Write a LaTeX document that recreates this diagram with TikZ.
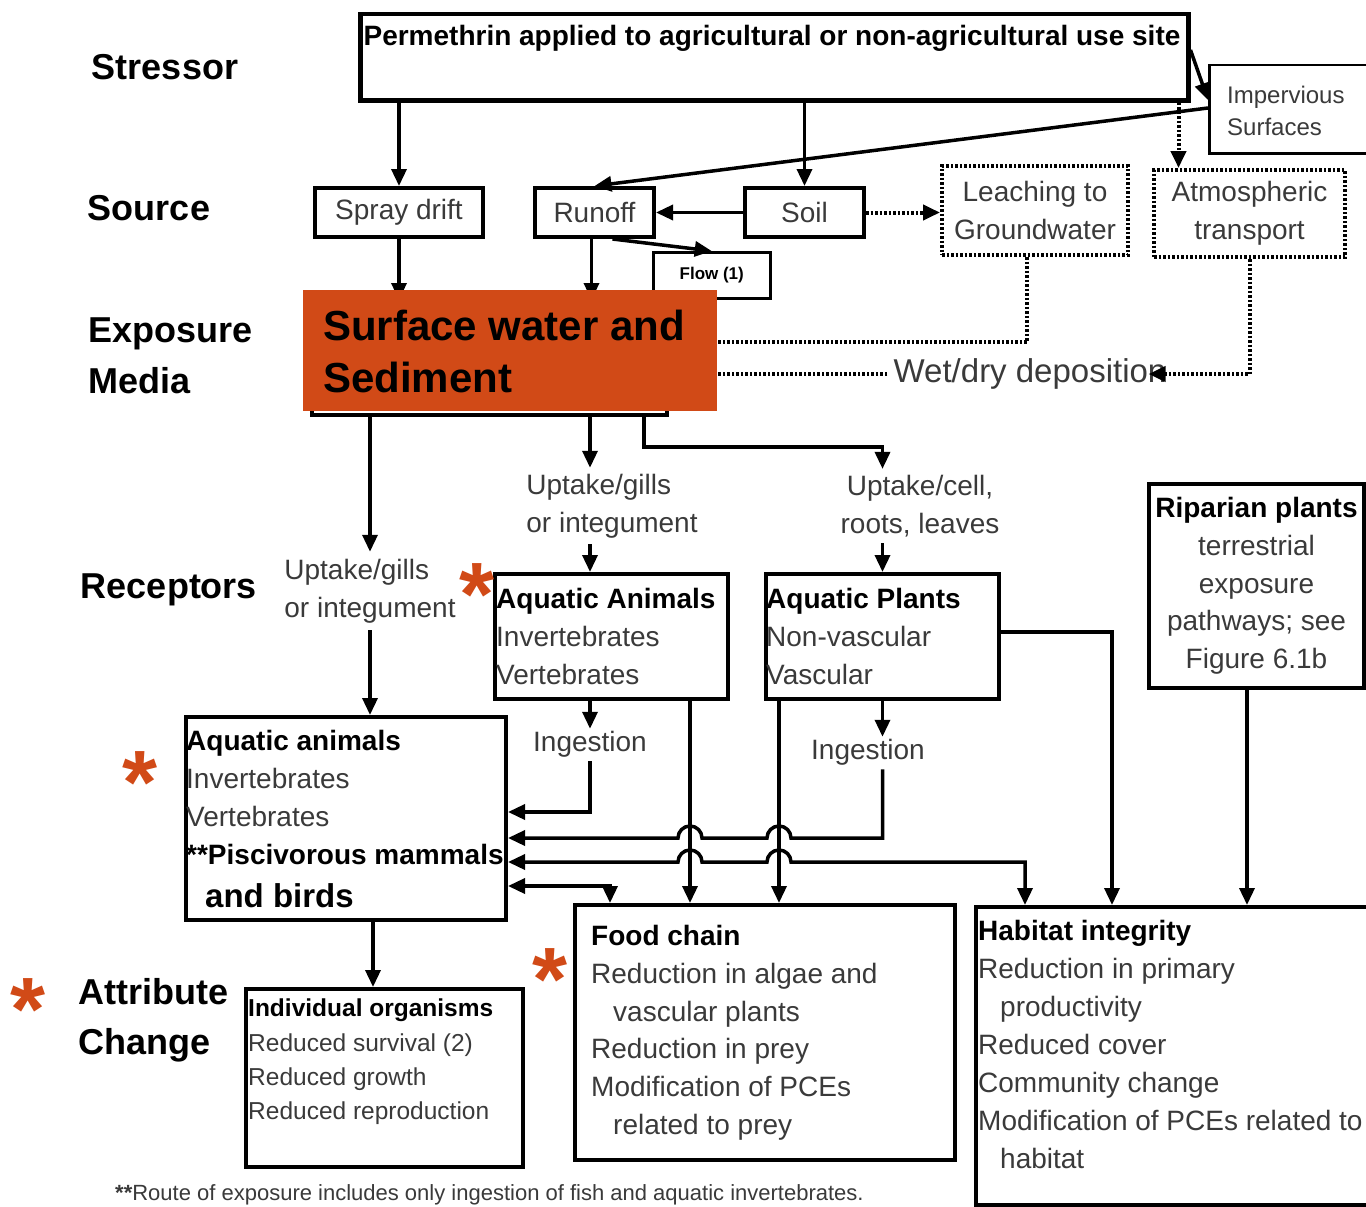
\documentclass[tikz,border=0pt]{standalone}
\usepackage{fontspec}
\setmainfont{Liberation Sans}
\usetikzlibrary{arrows.meta,calc}
\definecolor{orng}{HTML}{D14A17}
\definecolor{txtg}{HTML}{3A3A3A}
\tikzset{
  box/.style={draw=black, line width=4pt, rectangle, inner sep=0pt, fill=white, text=txtg, font=\fontsize{28}{38}\selectfont},
  thinbox/.style={box, line width=2.5pt},
  dotbox/.style={box, dash pattern=on 2.5pt off 2pt},
  tip/.tip={Triangle[length=17pt,width=15pt]},
  arr/.style={line width=3.5pt, -tip},
  darr/.style={line width=3.5pt, tip-tip},
  dotln/.style={line width=4pt, dash pattern=on 2.5pt off 2pt},
  dotarr/.style={dotln, -tip},
  lbl/.style={font=\fontsize{36}{50}\selectfont\bfseries, inner sep=0pt, align=left, text=black},
  t28/.style={font=\fontsize{28}{38}\selectfont, text=txtg, inner sep=0pt},
  t24/.style={font=\fontsize{24}{32}\selectfont, text=txtg, inner sep=0pt},
  ast/.style={font=\fontsize{90}{90}\selectfont\bfseries, text=orng, inner sep=0pt, anchor=north},
}
\newcommand\mybox[7]{\node[#2, anchor=north west, minimum width={(#5)-(#3)}, minimum height={(#6)-(#4)}] (#1) at (#3,#4) {#7};}
\newcommand\bk[1]{\textbf{\color{black}#1}}
\begin{document}
\begin{tikzpicture}[x=1pt,y=-1pt]
\fill[white] (0,0) rectangle (1366,1207);
\useasboundingbox (0,0) rectangle (1366,1207);

% left labels
\node[lbl] (lStress) at (165,67) {Stressor};
\node[lbl] (lSource) at (149,208) {Source};
\node[lbl, anchor=west, font=\fontsize{36}{51}\selectfont\bfseries] (lExp) at (88,356) {Exposure\\Media};
\node[lbl] (lRec) at (169,590) {Receptors};
\node[lbl, anchor=west] (lAttr) at (78,1020) {Attribute\\Change};

% boxes
\mybox{swbox}{box}{310}{292}{665}{413}{}
\mybox{perm}{box, line width=4.5pt}{358}{12}{1186}{98}{}
\mybox{imperv}{thinbox}{1208}{64}{1380}{152}{}
\mybox{spray}{box}{313}{186}{481}{235}{Spray drift}
\mybox{runoff}{box}{533}{186}{652}{235}{Runoff}
\mybox{soil}{box}{743}{186}{862}{235}{Soil}
\mybox{leach}{dotbox, align=center}{940}{164}{1126}{253}{Leaching to\\Groundwater}
\mybox{atmos}{dotbox, align=center}{1152}{168}{1343}{255}{Atmospheric\\transport}
\mybox{flow}{thinbox, font=\fontsize{17}{20}\selectfont\bfseries, text=black}{652}{251}{769}{297}{Flow (1)}
\mybox{aqa}{box}{493}{572}{726}{697}{}
\mybox{aqp}{box}{764}{572}{997}{697}{}
\mybox{rip}{box, align=center, font=\fontsize{28}{37.75}\selectfont}{1147}{482}{1362}{686}{\bk{Riparian plants}\\terrestrial\\exposure\\pathways; see\\Figure 6.1b}
\mybox{aql}{box}{184}{715}{504}{918}{}
\mybox{ind}{box}{244}{987}{521}{1165}{}
\mybox{food}{box}{573}{903}{953}{1158}{}
\mybox{hab}{box}{974}{905}{1380}{1203}{}

% texts inside boxes
\node[font=\fontsize{28}{34}\selectfont\bfseries, inner sep=0pt] (permT) at (772,38) {Permethrin applied to agricultural or non-agricultural use site};
\node[t24, align=left, anchor=west] (impT) at (1227,111) {Impervious\\Surfaces};
\node[t28, align=left, anchor=north west] (aqaT) at (496,588) {\bk{Aquatic Animals}\\Invertebrates\\Vertebrates};
\node[t28, align=left, anchor=north west] (aqpT) at (766,588) {\bk{Aquatic Plants}\\Non-vascular\\Vascular};
\node[t28, align=left, anchor=north west] (aqlT) at (186,730) {\bk{Aquatic animals}\\Invertebrates\\Vertebrates\\\bk{**Piscivorous mammals}};
\node[font=\fontsize{33}{40}\selectfont\bfseries, inner sep=0pt, anchor=west] (aqlT2) at (205,896) {and birds};
\node[font=\fontsize{24.5}{34.3}\selectfont, text=txtg, inner sep=0pt, align=left, anchor=north west] (indT) at (248,999) {\bk{Individual organisms}\\Reduced survival (2)\\Reduced growth\\Reduced reproduction};
\node[t28, align=left, anchor=north west, font=\fontsize{28}{37.8}\selectfont] (foodT) at (591,925) {\bk{Food chain}\\Reduction in algae and\\\hspace*{22pt}vascular plants\\Reduction in prey\\Modification of PCEs\\\hspace*{22pt}related to prey};
\node[t28, align=left, anchor=north west] (habT) at (978,920) {\bk{Habitat integrity}\\Reduction in primary\\\hspace*{22pt}productivity\\Reduced cover\\Community change\\Modification of PCEs related to\\\hspace*{22pt}habitat};

% path labels
\node[t28, align=left] (upl) at (370,591) {Uptake/gills\\or integument};
\node[t28, align=left] (upm) at (612,506) {Uptake/gills\\or integument};
\node[t28, align=center] (upp) at (920,506) {Uptake/cell,\\roots, leaves};
\node[t28] (ing1) at (590,744) {Ingestion};
\node[t28] (ing2) at (868,752) {Ingestion};
\node[font=\fontsize{33}{38}\selectfont, text=txtg, inner sep=0pt] (dep) at (1030,374) {Wet/dry deposition};

% connectors: top
\draw[arr] (spray.north |- perm.south) -- (spray.north);
\draw[arr] (soil.north |- perm.south) -- (soil.north);
\draw[arr] ([yshift=-38pt]perm.north east) -- ([yshift=-36pt]imperv.north west);
\draw[arr] ([yshift=-44pt]imperv.north west) -- (runoff.north);
\draw[dotarr] ([xshift=-12pt]perm.south east) -- ([xshift=-12pt]perm.south east |- atmos.north);
\draw[arr] (soil.west) -- (runoff.east);
\draw[dotarr] (soil.east) -- (soil.east -| leach.west);
\draw[arr] ([xshift=18pt]runoff.south) -- (flow.north);
\draw[arr] (spray.south) -- ([yshift=-8pt]spray.south |- swbox.north);
\draw[arr] ([xshift=-3pt]runoff.south) -- ([xshift=-3pt,yshift=-8pt]runoff.south |- swbox.north);
\draw[dotln] ([xshift=-8pt]leach.south) |- ([yshift=12.5pt]swbox.east);
\draw[dotarr] (atmos.south) |- ([xshift=-18pt]dep.east);
\draw[dotln] ([xshift=-6pt]dep.west) -- (dep.west -| swbox.east);

% exposure to receptors
\draw[arr] (upl.north |- swbox.south) -- ([yshift=7pt]upl.north);
\draw[arr] ([yshift=-7pt]upl.south) -- (upl.south |- aql.north);
\draw[arr] ([xshift=-22pt]upm.north |- swbox.south) -- ([xshift=-22pt,yshift=6pt]upm.north);
\draw[arr] ([xshift=-22pt,yshift=-6pt]upm.south) -- ([xshift=-22pt]upm.south |- aqa.north);
\draw[arr] ([xshift=-25pt]swbox.south east) -- ++(0,30) -| ([yshift=6pt]aqp.north |- upp.north);
\draw[arr] ([yshift=-6pt]aqp.north |- upp.south) -- (aqp.north);

% receptors to attributes
\coordinate (r1) at ([yshift=6.5pt]aql.east);
\coordinate (r2) at ([yshift=-19.5pt]aql.east);
\coordinate (r3) at ([yshift=-43.5pt]aql.east);
\coordinate (r4) at ([yshift=-67.5pt]aql.east);
\coordinate (vA) at ([xshift=78.5pt]aqa.south);
\coordinate (vP) at ([xshift=-103.5pt]aqp.south);

\draw[arr] (ing1.north |- aqa.south) -- ([yshift=2pt]ing1.north);
\draw[arr] ([yshift=-4pt]ing1.south) |- (r1);
\draw[arr] (vA) -- (vA |- food.north);
\draw[arr] (vP) -- (vP |- food.north);
\draw[arr] (aqp.south) -- ([yshift=2pt]aqp.south |- ing2.north);
\draw[arr] ([yshift=-4pt]aqp.south |- ing2.south) |- ([xshift=12pt]vP |- r2) arc[start angle=0,end angle=180,radius=12pt] -- ([xshift=12pt]vA |- r2) arc[start angle=0,end angle=180,radius=12pt] -- (r2);
\draw[darr] ([xshift=51pt]hab.north west) |- ([xshift=12pt]vP |- r3) arc[start angle=0,end angle=180,radius=12pt] -- ([xshift=12pt]vA |- r3) arc[start angle=0,end angle=180,radius=12pt] -- (r3);
\draw[darr] ([xshift=37pt]food.north west) |- (r4);
\draw[arr] ([yshift=4.5pt]aqp.east) -| ([xshift=138pt]hab.north west);
\draw[arr] ([xshift=-9.5pt]rip.south) -- ([xshift=-9.5pt]rip.south |- hab.north);
\draw[arr] ([xshift=-11.5pt]ind.north |- aql.south) -- ([xshift=-11.5pt]ind.north);

% orange overlay
\node[fill=orng, anchor=north west, minimum width=414, minimum height=121, inner sep=0pt] (sw) at (303,290) {};
\node[font=\fontsize{42}{52}\selectfont\bfseries, inner sep=0pt, align=left, anchor=west] (swT) at (323,351) {Surface water and\\Sediment};

% asterisks
\node[ast] (as1) at (477,563) {*};
\node[ast] (as2) at (140,751) {*};
\node[ast] (as3) at (28,978) {*};
\node[ast] (as4) at (550,948) {*};

% footnote
\node[font=\fontsize{22}{26}\selectfont, text=txtg, inner sep=0pt, anchor=west] (foot) at (115,1195) {\textbf{**}Route of exposure includes only ingestion of fish and aquatic invertebrates.};
\end{tikzpicture}
\end{document}
